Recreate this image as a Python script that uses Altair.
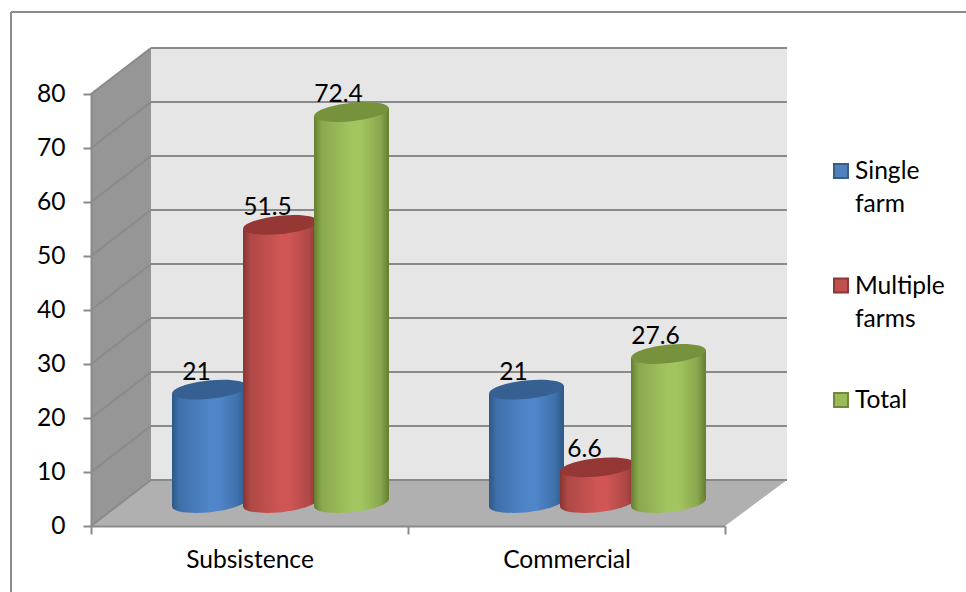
import altair as alt
import pandas as pd

# Chart values
categories = ["Subsistence", "Commercial"]
series_names = ["Single farm", "Multiple farms", "Total"]
single_farm = [21, 21]
multiple_farms = [51.5, 6.6]
total = [72.4, 27.6]
y_ticks = [0, 10, 20, 30, 40, 50, 60, 70, 80]

# Colours per series: flat fill, outline, top cap and the cylinder shading ramp
fills = ["#4f81bd", "#c0504d", "#9bbb59"]
outlines = ["#385d8a", "#8c3836", "#71893f"]
caps = ["#376092", "#953735", "#76923c"]
edges = ["#2e5886", "#883533", "#647e2f"]
shoulders = ["#3f70aa", "#ae4846", "#8aa94f"]
centres = ["#4f86ca", "#cf5654", "#a3c55f"]

FONT = "Lato"
FONT_SIZE = 24.6
GREY = "#8a8a8a"

# Plot geometry (pixels) and the oblique projection of the 3D box
W, H = 634, 432
PX_PER_BAND = W / 2
PX_PER_UNIT = H / 80
DEPTH_X = 60 / PX_PER_BAND
DEPTH_Y = 46 / PX_PER_UNIT
FAR_X = 2 + 62 / PX_PER_BAND
TILT = 3.9 / PX_PER_UNIT
CYL_LEFT = 81 / PX_PER_BAND
CYL_WIDTH = 75 / PX_PER_BAND
CYL_PITCH = 71 / PX_PER_BAND
LIFT = -23

ELLIPSE = ("M-1,0C-1,-.135,-.55,-.245,0,-.245C.55,-.245,1,-.135,1,0"
           "C1,.135,.55,.245,0,.245C-.55,.245,-1,.135,-1,0Z")

series_values = [single_farm, multiple_farms, total]
bars = []
outline_rows = []
for s, (name, vals) in enumerate(zip(series_names, series_values)):
    for c, (cat, v) in enumerate(zip(categories, vals)):
        left = c + CYL_LEFT + s * CYL_PITCH
        cid = f"{cat}-{name}"
        bars.append({"series": name, "category": cat, "value": v, "cx": left + CYL_WIDTH / 2, "base": 0})
        outline_rows.append({"cid": cid, "series": name, "x": left, "top": v - TILT, "bot": -TILT})
        outline_rows.append({"cid": cid, "series": name, "x": left + CYL_WIDTH, "top": v + TILT, "bot": TILT})
bars = pd.DataFrame(bars)
outline_rows = pd.DataFrame(outline_rows)


def qx(field):
    return alt.X(field, type="quantitative", scale=alt.Scale(domain=[0, 2], nice=False, zero=False), axis=None)


def qy(field):
    return alt.Y(field, type="quantitative", scale=alt.Scale(domain=[0, 80], nice=False, zero=False), axis=None)


ticks = pd.DataFrame({
    "level": y_ticks,
    "back": [t + DEPTH_Y for t in y_ticks],
    "x0": [0] * len(y_ticks),
    "x1": [DEPTH_X] * len(y_ticks),
    "x2": [FAR_X] * len(y_ticks),
})

# Walls and floor of the box
back_wall = alt.Chart(pd.DataFrame({"a": [DEPTH_X], "b": [FAR_X], "lo": [DEPTH_Y], "hi": [80 + DEPTH_Y]})).mark_rect(
    color="#e6e6e6"
).encode(x=qx("a"), x2="b:Q", y=qy("lo"), y2="hi:Q")

side_wall = alt.Chart(pd.DataFrame({"x": [0, DEPTH_X], "hi": [80, 80 + DEPTH_Y], "lo": [0, DEPTH_Y]})).mark_area(
    color="#969696", opacity=1
).encode(x=qx("x"), y=qy("hi"), y2="lo:Q")

floor = alt.Chart(pd.DataFrame({"d": [0, DEPTH_Y], "a": [0, DEPTH_X], "b": [2, FAR_X]})).mark_area(
    color="#b0b0b0", orient="horizontal", opacity=1
).encode(y=qy("d"), x=qx("a"), x2="b:Q")

back_grid = alt.Chart(ticks).mark_rule(color=GREY, size=2).encode(x=qx("x1"), x2="x2:Q", y=qy("back"))
side_grid = alt.Chart(ticks).mark_rule(color=GREY, size=2).encode(
    x=qx("x0"), x2="x1:Q", y=qy("level"), y2="back:Q"
)

# Axes: band scale for the categories, ticks on the band edges
axes = alt.Chart(pd.DataFrame({"category": categories, "level": [0, 0]})).mark_point(opacity=0).encode(
    x=alt.X("category:N", sort=categories, title=None,
            scale=alt.Scale(type="band", domain=categories, paddingInner=0, paddingOuter=0),
            axis=alt.Axis(tickBand="extent", labelAngle=0, domainColor=GREY, tickColor=GREY, domainWidth=2,
                          tickWidth=2, tickSize=8, labelFont=FONT, labelFontSize=FONT_SIZE, labelColor="black",
                          labelPadding=14, zindex=1, grid=False)),
    y=alt.Y("level:Q", title=None, scale=alt.Scale(domain=[0, 80], nice=False, zero=False),
            axis=alt.Axis(values=y_ticks, domainColor=GREY, tickColor=GREY, domainWidth=2, tickWidth=2,
                          tickSize=8, labelFont=FONT, labelFontSize=FONT_SIZE, labelColor="black", labelPadding=18,
                          zindex=1, grid=False)),
)


def shade(s):
    return alt.Gradient(
        gradient="linear", x1=0, x2=1, y1=0, y2=0,
        stops=[alt.GradientStop(offset=0, color=edges[s]),
               alt.GradientStop(offset=0.1, color=shoulders[s]),
               alt.GradientStop(offset=0.5, color=centres[s]),
               alt.GradientStop(offset=0.62, color=centres[s]),
               alt.GradientStop(offset=0.88, color=shoulders[s]),
               alt.GradientStop(offset=1, color=edges[s])],
    )


cylinders = []
for s, name in enumerate(series_names):
    sub = bars[bars["series"] == name]
    rows = outline_rows[outline_rows["series"] == name]
    bottom = alt.Chart(sub).mark_point(
        shape=ELLIPSE, size=75 ** 2, angle=354, filled=True, opacity=1, fill=shade(s), strokeWidth=0, yOffset=LIFT
    ).encode(x=qx("cx"), y=qy("base"))
    body = alt.Chart(rows).mark_area(
        fill=shade(s), opacity=1, yOffset=LIFT, y2Offset=LIFT, strokeWidth=0
    ).encode(x=qx("x"), y=qy("top"), y2="bot:Q", detail="cid:N")
    top = alt.Chart(sub).mark_point(
        shape=ELLIPSE, size=75 ** 2, angle=354, filled=True, opacity=1, fill=caps[s], strokeWidth=0, yOffset=LIFT
    ).encode(x=qx("cx"), y=qy("value"))
    cylinders += [bottom, body, top]

# Value labels above each cylinder
labels = alt.Chart(bars).mark_text(
    font=FONT, fontSize=FONT_SIZE, color="black", align="center", baseline="alphabetic", dx=-13, dy=-33
).encode(x=qx("cx"), y=qy("value"), text=alt.Text("value:Q"))

# Key to the right of the plot, one entry per series
key_y = alt.Y("series:N", sort=series_names, axis=None,
              scale=alt.Scale(type="point", domain=series_names, range=[77, 306], padding=0))
key_data = pd.DataFrame({"series": series_names})
key_symbols = alt.Chart(key_data).mark_square(size=196, opacity=1, strokeWidth=2, filled=True).encode(
    x=alt.value(750), y=key_y,
    fill=alt.Fill("series:N", scale=alt.Scale(domain=series_names, range=fills), legend=None),
    stroke=alt.Stroke("series:N", scale=alt.Scale(domain=series_names, range=outlines), legend=None),
)
key_labels = alt.Chart(key_data).mark_text(
    font=FONT, fontSize=FONT_SIZE, color="black", align="left", baseline="alphabetic",
    lineBreak=" ", lineHeight=33, dy=8
).encode(x=alt.value(764), y=key_y, text="series:N")

# Frame around the chart
frame_top = alt.Chart(pd.DataFrame({"k": [0]})).mark_rule(color=GREY, size=2).encode(
    x=alt.value(-80), x2=alt.value(875), y=alt.value(-82))
frame_left = alt.Chart(pd.DataFrame({"k": [0]})).mark_rule(color=GREY, size=2).encode(
    x=alt.value(-80), y=alt.value(-82), y2=alt.value(498))

chart = alt.layer(
    frame_top, frame_left, back_wall, side_wall, floor, back_grid, side_grid, axes,
    *cylinders, labels, key_symbols, key_labels
).resolve_scale(x="independent", y="independent").properties(
    width=W, height=H,
    padding={"left": 91, "top": 94, "right": 241, "bottom": 66},
    autosize=alt.AutoSizeParams(type="none"),
    background="white",
).configure_view(stroke=None)

chart.save("out.html", embed_options={"renderer": "svg", "actions": False})
